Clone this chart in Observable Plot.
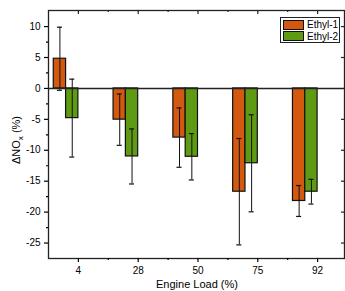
<!DOCTYPE html>
<html>
<head>
<meta charset="utf-8">
<script src="https://cdn.jsdelivr.net/npm/d3@7"></script>
<script src="https://cdn.jsdelivr.net/npm/@observablehq/plot@0.6"></script>
<style>
  body { margin: 0; background: white; }
  #wrap { position: relative; width: 345px; height: 291px; font-family: "Liberation Sans", Arial, sans-serif; }
  #legend { position: absolute; left: 280px; top: 17px; height: 26px; border: 1px solid #222; background: white; box-sizing: border-box; font-size: 10px; padding: 1px 1px 0 2px; white-space: nowrap; }
  #legend .row { display: flex; align-items: center; height: 11.5px; }
  #legend .sw { width: 21px; height: 10px; border: 1px solid #111; box-sizing: border-box; margin-right: 3px; flex: none; }
</style>
</head>
<body>
<div id="wrap"><div id="legend"></div></div>
<script>
// ---- data ----
const loads = ["4", "28", "50", "75", "92"];
const seriesNames = ["Ethyl-1", "Ethyl-2"];
const ethyl1 = [4.8, -5.05, -7.95, -16.7, -18.2];
const ethyl1Err = [5.1, 4.15, 4.8, 8.6, 2.5];
const ethyl2 = [-4.8, -11.0, -11.05, -12.1, -16.7];
const ethyl2Err = [6.3, 4.45, 3.75, 7.85, 2.0];
const yTicks = [-25, -20, -15, -10, -5, 0, 5, 10];
const yMinor = [-22.5, -17.5, -12.5, -7.5, -2.5, 2.5, 7.5];
const colors = ["#d2590f", "#5f9b12"];

// ---- layout ----
const W = 345, H = 291;
const mL = 48, mR = 1, mT = 10, mB = 33;
const plotW = W - mL - mR, plotH = H - mT - mB;
const barW = 0.206;

const values = [ethyl1, ethyl2];
const errs = [ethyl1Err, ethyl2Err];
const rows = loads.flatMap((load, i) => seriesNames.map((s, k) => ({
  i: i + 1, load, series: s, slot: k, value: values[k][i], err: errs[k][i]
})));
const x1 = d => d.i - barW * (2 - d.slot);
const x2 = d => d.i - barW * (1 - d.slot);
const xc = d => d.i - barW * (1.5 - d.slot);
const idx = loads.map((_, i) => i + 1);
const xMinor = idx.slice(0, -1).map(i => i + 0.5);

const chart = Plot.plot({
  width: W, height: H,
  marginLeft: mL, marginRight: mR, marginTop: mT, marginBottom: mB,
  style: { fontFamily: '"Liberation Sans", Arial, sans-serif', fontSize: "10px", color: "black", background: "white", overflow: "visible" },
  x: { type: "linear", domain: [0.5, 5.45], axis: null },
  y: { domain: [-27.5, 12.6], axis: null },
  color: { domain: seriesNames, range: colors },
  marks: [
    Plot.rectY(rows, { x1, x2, y1: 0, y2: "value", fill: "series", stroke: "#111", strokeWidth: 1.2 }),
    Plot.ruleX(rows, { x: xc, y1: d => d.value - d.err, y2: d => d.value + d.err, stroke: "#111", strokeWidth: 1 }),
    Plot.ruleY(rows, { y: d => d.value + d.err, x1: d => xc(d) - 0.042, x2: d => xc(d) + 0.042, stroke: "#111", strokeWidth: 1.2 }),
    Plot.ruleY(rows, { y: d => d.value - d.err, x1: d => xc(d) - 0.042, x2: d => xc(d) + 0.042, stroke: "#111", strokeWidth: 1.2 }),
    Plot.ruleY([0], { stroke: "#222", strokeWidth: 1.4 }),
    Plot.frame({ stroke: "#222", strokeWidth: 1.3 }),
    Plot.axisY(yTicks, { tickSize: 4, tickPadding: 4, tickFormat: d => String(d), label: null, strokeWidth: 1.2 }),
    Plot.axisY(yMinor, { tickSize: 2, tickFormat: () => "", label: null, strokeWidth: 1.2 }),
    Plot.axisX(idx, { tickSize: 4, tickPadding: 4, tickFormat: d => loads[d - 1], label: null, strokeWidth: 1.2 }),
    Plot.axisX(xMinor, { tickSize: 2, tickFormat: () => "", label: null, strokeWidth: 1.2 }),
    Plot.ruleX(idx, { insetBottom: plotH - 4, stroke: "#222", strokeWidth: 1.2 }),
    Plot.ruleX(xMinor, { insetBottom: plotH - 2, stroke: "#222", strokeWidth: 1.2 }),
    Plot.ruleY(yTicks.filter(v => v !== 0), { insetLeft: plotW - 3, stroke: "#222", strokeWidth: 1.2 })
  ]
});

document.getElementById("wrap").prepend(chart);

// axis titles
const svg = d3.select(chart);
svg.append("text")
  .attr("x", mL + plotW / 2 + 1).attr("y", 288)
  .attr("text-anchor", "middle").attr("font-size", "11px").attr("fill", "black")
  .text("Engine Load (%)");
const yl = svg.append("text")
  .attr("transform", `translate(20,${mT + plotH / 2 + 6}) rotate(-90)`)
  .attr("text-anchor", "middle").attr("font-size", "11px").attr("fill", "black");
yl.append("tspan").text("\u0394NO");
yl.append("tspan").attr("font-size", "8px").attr("dy", "3").text("x");
yl.append("tspan").attr("dy", "-3").text(" (%)");

// legend
const leg = d3.select("#legend");
seriesNames.forEach((s, k) => {
  const r = leg.append("div").attr("class", "row");
  r.append("div").attr("class", "sw").style("background", colors[k]);
  r.append("span").text(s);
});
</script>
</body>
</html>
